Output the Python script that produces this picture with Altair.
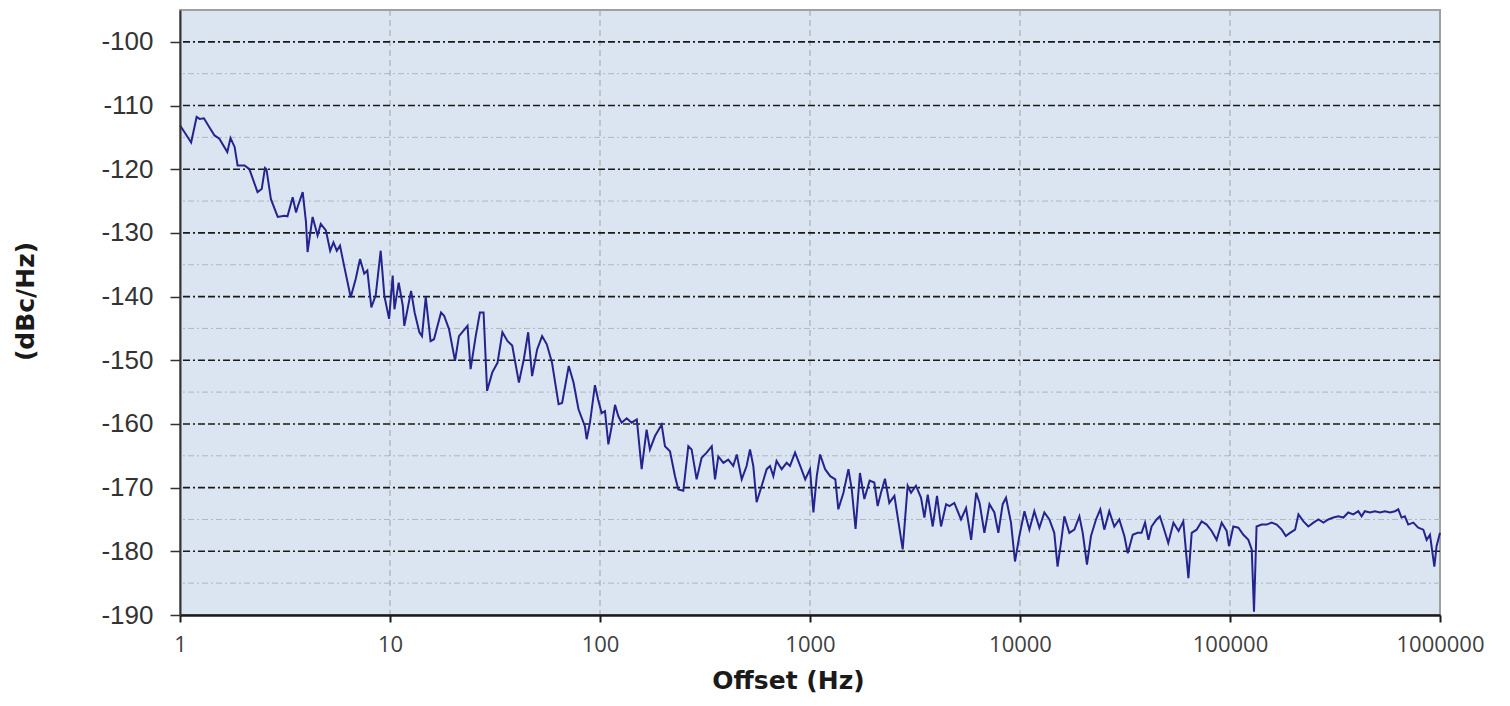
import altair as alt
import pandas as pd

# ---- data ----
offset_hz = [
    1, 1.13, 1.20, 1.24, 1.30, 1.38, 1.46, 1.54, 1.68, 1.74, 1.82, 1.88, 2.03, 2.14,
    2.34, 2.45, 2.54, 2.58, 2.71, 2.92, 3.14, 3.25, 3.44, 3.57, 3.65, 3.84, 3.98, 4.05,
    4.28, 4.52, 4.68, 4.95, 5.19, 5.38, 5.58, 5.78, 6.04, 6.5, 6.87, 7.2, 7.54, 7.8,
    8.15, 8.55, 9.03,
    9.4, 9.9, 10.3, 10.5, 11, 11.5, 11.7, 12.6, 13.1, 13.8, 14.2, 14.8, 15.6, 16.2,
    17.5, 18.1, 19.1, 20.4, 21.3, 23.4, 24.2, 25.6, 26.8, 27.9, 29, 30.7, 32.5, 34.3,
    36.3, 38.2, 41.1, 43.4, 45.5, 47.5, 50.2, 53, 55.8, 59.1, 63.5, 66, 71, 74.8, 79,
    84.8, 86.4, 89.6, 94.6, 98, 101.8, 105.6, 109.6, 113.6, 117.9, 122.3, 126.8, 134,
    141.5, 149.7, 157.9, 166.7, 172.9, 182.8, 196.6, 203.9, 215.4, 227.6, 236, 249.3,
    263.4, 273, 288.5, 304.8, 322, 340.6, 353, 366, 387, 408, 431, 448, 473, 499, 518,
    537, 557, 589, 622, 645, 669, 693, 733, 774, 803, 849, 898, 949, 1000, 1038, 1077,
    1117, 1180, 1248, 1320, 1364, 1443, 1524, 1581, 1648, 1729,
    1815, 1923, 2024, 2100, 2178, 2275, 2386, 2523, 2763, 2918, 3027, 3196, 3379, 3505,
    3636, 3840, 4025, 4207, 4448, 4615, 4867, 5236, 5536, 5853, 6187, 6419, 6768, 7155,
    7551, 7887, 8271, 8580, 9060, 9467, 9930, 10500, 11080, 11700, 12370, 13060, 13800,
    14560, 15100, 15670, 16260, 17180, 18150, 19180, 19890, 20840, 21780, 23010, 24120,
    25200, 26610, 28120, 29700, 31400, 32590, 34430, 36300,
    37930, 39400, 40890, 42340, 44720, 46340, 48070, 50820, 53790, 56900, 59930, 63370,
    65700, 69370, 73280, 77440, 81800, 86380, 91280, 96400, 98900, 103700, 109600,
    115800, 122300, 126900, 130100, 133800, 141500, 149500, 157900, 166900, 176300,
    184400, 193100, 204100, 211800, 223800, 236100, 249700, 263700, 278700, 294000,
    310700, 328000, 346700, 365600, 386500, 408300, 423300, 438500, 464100, 490200,
    517700, 547000, 578100, 610600, 633000, 656000, 680000, 706000, 746000, 788000,
    833000, 864000, 896000, 940000, 963000, 1000000,
]
phase_noise_dbc = [
    -113.1, -115.8, -111.8, -112.1, -112.0, -113.4, -114.7, -115.2, -117.3, -115.1,
    -116.5, -119.4, -119.4, -120.0, -123.6, -123.1, -119.8, -120.0, -124.7, -127.5,
    -127.3, -127.4, -124.4, -126.8, -125.7, -123.6, -128.3, -133.0, -127.5, -130.4,
    -128.6, -129.6, -132.8, -131.5, -132.8, -132.0, -135.1, -140.1, -137.2, -134.1,
    -136.4, -135.9, -141.7, -139.8, -132.8,
    -139.9, -143.5, -136.7, -142.0, -137.8, -141.4, -144.6, -139.1, -142.5, -145.6,
    -146.2, -140.1, -147.0, -146.7, -142.5, -143.0, -145.1, -150.1, -146.2, -144.6,
    -151.4, -146.2, -142.5, -142.5, -154.8, -151.9, -150.4, -145.6, -147.0, -147.7,
    -153.5, -149.8, -145.6, -152.5, -148.3, -146.2, -147.5, -150.4, -156.9, -156.7,
    -150.9, -153.5, -157.7,
    -160.4, -162.4, -159.8, -153.9, -156.2, -158.3, -158.0, -163.2, -160.4, -157.0,
    -158.8, -159.8, -159.1, -159.8, -159.3, -167.1, -160.9, -164.0, -161.9, -160.1,
    -163.5, -164.3, -168.2, -170.3, -170.5, -163.5, -164.0, -168.7, -165.3, -164.5,
    -163.5, -168.7, -165.1, -166.1, -165.6, -166.6, -164.8, -168.7, -166.6, -164.0,
    -166.6, -172.3, -169.7, -167.1, -166.6, -168.2, -165.8, -167.1, -166.1, -166.6,
    -164.5, -166.6, -168.7, -167.1, -173.9, -168.2, -164.8, -167.1, -168.2, -168.7,
    -173.4, -170.8, -167.1, -170.3, -176.5, -167.7,
    -171.8, -168.9, -169.2, -172.9, -170.8, -168.6, -172.4, -171.3, -179.7, -169.7,
    -170.8, -169.7, -171.6, -174.7, -171.1, -176.1, -171.3, -176.1, -172.6, -172.9,
    -172.4, -175.0, -173.2, -178.2, -170.8, -172.4, -177.1, -172.6, -173.9, -177.1,
    -172.6, -171.6, -175.5, -181.6, -177.6, -173.7, -176.6, -173.7, -176.3, -173.9,
    -175.0, -177.1, -182.4, -178.7, -174.5, -177.1, -176.6, -174.5, -177.1, -182.1,
    -177.6, -175.0, -173.4, -176.6, -173.7, -176.1, -175.0, -177.6, -180.3, -177.4,
    -177.1,
    -177.1, -175.5, -178.2, -176.1, -175.0, -174.5, -176.1, -178.7, -175.5, -176.8,
    -175.3, -184.2, -177.1, -176.6, -175.3, -175.8, -176.8, -178.2, -175.5, -176.8,
    -179.2, -176.1, -176.3, -177.4, -178.2, -179.7, -189.5, -176.1, -175.8, -175.8,
    -175.5, -175.8, -176.6, -177.6, -177.1, -176.6, -174.2, -175.3, -176.1, -175.5,
    -175.0, -175.5, -175.0, -174.7, -174.5, -174.7, -173.9, -174.2, -173.7, -174.5,
    -173.7, -173.9, -173.7, -173.9, -173.7, -173.9, -173.7, -173.4, -174.7, -174.5,
    -175.8, -175.5, -176.3, -176.6, -178.2, -177.4, -182.4, -179.2, -177.1,
]

x_ticks = [1, 10, 100, 1000, 10000, 100000, 1000000]
x_grid = [10, 100, 1000, 10000, 100000]
y_ticks = [-190, -180, -170, -160, -150, -140, -130, -120, -110, -100]
y_minor = [-185, -175, -165, -155, -145, -135, -125, -115, -105]

df = pd.DataFrame({"offset": offset_hz, "pn": phase_noise_dbc})
xscale = alt.Scale(type="log", domain=[1, 1000000], nice=False)
yscale = alt.Scale(domain=[-190, -95], nice=False, zero=False)

x_axis = alt.Axis(
    values=x_ticks,
    format="d",
    grid=False,
    title="Offset (Hz)",
    titleFont="DejaVu Sans",
    titleFontSize=25,
    titleFontWeight="bold",
    titleColor="#1a1a1a",
    titleX=608,
    titleY=73,
    titleAnchor="start",
    titleAlign="center",
    titleBaseline="alphabetic",
    labelFont="Open Sans",
    labelFontSize=22,
    labelColor="#404040",
    labelPadding=12,
    tickSize=7,
    tickColor="#1a1a1a",
    tickWidth=2,
    domainColor="#1a1a1a",
    domainWidth=2.5,
    labelFlush=False,
    labelOverlap=False,
    zindex=1,
)

y_axis = alt.Axis(
    values=y_ticks,
    labelExpr="'-' + abs(datum.value)",
    grid=False,
    title="(dBc/Hz)",
    titleFont="DejaVu Sans",
    titleFontSize=25,
    titleFontWeight="bold",
    titleColor="#1a1a1a",
    titleAngle=-90,
    titleX=-155,
    titleY=291,
    titleAnchor="start",
    titleAlign="center",
    titleBaseline="middle",
    labelFont="Liberation Sans",
    labelFontSize=26,
    labelColor="#333333",
    labelPadding=17,
    tickSize=10,
    tickColor="#333333",
    tickWidth=1.5,
    domainColor="#333333",
    domainWidth=2,
    labelOverlap=False,
    zindex=1,
)

minor_rules = alt.Chart(pd.DataFrame({"v": y_minor})).mark_rule(
    color="#aeb6c2", strokeWidth=1, strokeDash=[6, 3, 2, 3]
).encode(y=alt.Y("v:Q", scale=yscale, axis=y_axis))

x_rules = alt.Chart(pd.DataFrame({"v": x_grid})).mark_rule(
    color="#a3a3a3", strokeWidth=1, strokeDash=[6, 4]
).encode(x=alt.X("v:Q", scale=xscale, axis=x_axis))

major_rules = alt.Chart(pd.DataFrame({"v": y_ticks[1:]})).mark_rule(
    color="#1a1a1a", strokeWidth=1.6, strokeDash=[7, 3, 7, 3, 2, 3]
).encode(y=alt.Y("v:Q", scale=yscale, axis=y_axis))

line = alt.Chart(df).mark_line(color="#24248f", strokeWidth=2).encode(
    x=alt.X("offset:Q", scale=xscale, axis=x_axis),
    y=alt.Y("pn:Q", scale=yscale, axis=y_axis),
)

chart = (
    alt.layer(minor_rules, x_rules, major_rules, line)
    .properties(
        width=1260,
        height=605,
        autosize=alt.AutoSizeParams(type="none"),
        padding={"left": 172, "top": 2, "right": 56, "bottom": 85},
        background="white",
    )
    .configure_view(fill="#dbe5f1", stroke="#a0a0a0", strokeWidth=2)
)

chart.save("out.html", embed_options={"renderer": "svg", "actions": False})
